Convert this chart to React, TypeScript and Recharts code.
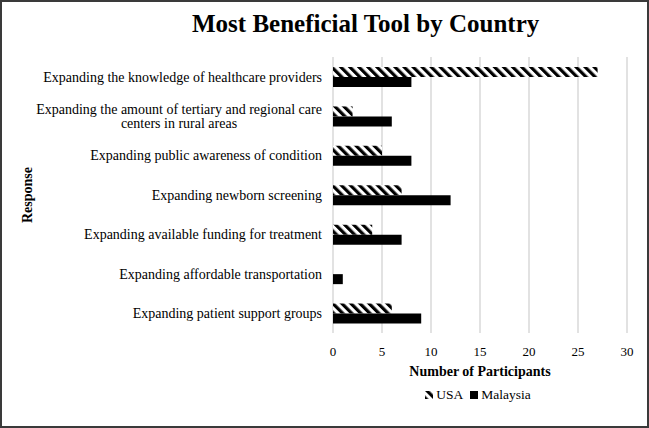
import React from 'react';
import { BarChart, Bar, XAxis, YAxis, CartesianGrid, Label } from 'recharts';

// Responses (top to bottom as drawn)
const responses = [
  'Expanding the knowledge of healthcare providers',
  'Expanding the amount of tertiary and regional care centers in rural areas',
  'Expanding public awareness of condition',
  'Expanding newborn screening',
  'Expanding available funding for treatment',
  'Expanding affordable transportation',
  'Expanding patient support groups',
];
const usaCounts = [27, 2, 5, 7, 4, 0, 6];
const malaysiaCounts = [8, 6, 8, 12, 7, 1, 9];
const xTicks = [0, 5, 10, 15, 20, 25, 30];

const data = responses.map((response, i) => ({
  response,
  usa: usaCounts[i],
  malaysia: malaysiaCounts[i],
}));

const FONT = '"Liberation Serif", "Times New Roman", serif';

// wrap long labels onto two centred lines, like Excel does
const wrapLabel = (text: string, maxChars = 50) => {
  const words = text.split(' ');
  const lines: string[] = [];
  let cur = '';
  words.forEach((w) => {
    const next = cur ? `${cur} ${w}` : w;
    if (next.length > maxChars && cur) {
      lines.push(cur);
      cur = w;
    } else {
      cur = next;
    }
  });
  if (cur) lines.push(cur);
  return lines;
};

const ResponseTick = (props: any) => {
  const { x, y, payload } = props;
  const lines = wrapLabel(payload.value);
  const style = { fontFamily: FONT, fontSize: 14, fill: '#000' };
  if (lines.length === 1) {
    return (
      <text x={x} y={y} dy="0.35em" textAnchor="end" style={style}>
        {lines[0]}
      </text>
    );
  }
  const cx = x - 143;
  return (
    <text x={cx} y={y} textAnchor="middle" style={style}>
      {lines.map((line, i) => (
        <tspan key={i} x={cx} y={y + (i - (lines.length - 1) / 2) * 14} dy="0.35em">
          {line}
        </tspan>
      ))}
    </text>
  );
};

export default function App() {
  return (
    <div
      style={{
        position: 'fixed',
        left: 0,
        top: 0,
        width: 649,
        height: 428,
        boxSizing: 'border-box',
        border: '2px solid #3a3a3a',
        background: '#fff',
        fontFamily: FONT,
        overflow: 'hidden',
      }}
    >
      <div
        style={{
          position: 'absolute',
          left: 190,
          top: 8,
          fontSize: 25,
          fontWeight: 'bold',
          whiteSpace: 'nowrap',
          color: '#000',
        }}
      >
        Most Beneficial Tool by Country
      </div>
      <div style={{ position: 'absolute', left: -2, top: -2 }}>
        <BarChart
          width={649}
          height={428}
          data={data}
          layout="vertical"
          barSize={10}
          barGap={0}
          margin={{ top: 57, right: 22, bottom: 45, left: 0 }}
          style={{ fontFamily: FONT }}
        >
          <defs>
            <pattern
              id="usaHatch"
              width={6.4}
              height={6.4}
              patternUnits="userSpaceOnUse"
              patternTransform="rotate(-45)"
            >
              <rect x={0} y={0} width={6.4} height={6.4} fill="#fff" />
              <rect x={0} y={0} width={3.2} height={6.4} fill="#000" />
            </pattern>
          </defs>
          <CartesianGrid horizontal={false} stroke="#d9d9d9" strokeWidth={1.5} />
          <XAxis
            type="number"
            domain={[0, 30]}
            ticks={xTicks}
            axisLine={false}
            tickLine={false}
            tick={{ fontSize: 13, fill: '#000', style: { fontFamily: FONT } }}
            tickMargin={8}
            height={50}
          >
            <Label
              value="Number of Participants"
              position="insideBottom"
              offset={7}
              style={{ fontSize: 14, fontWeight: 'bold', fill: '#000', fontFamily: FONT }}
            />
          </XAxis>
          <YAxis
            type="category"
            dataKey="response"
            width={333}
            axisLine={false}
            tickLine={false}
            tick={<ResponseTick />}
            tickMargin={5}
          >
            <Label
              value="Response"
              angle={-90}
              position="insideLeft"
              offset={27}
              style={{ fontSize: 14, fontWeight: 'bold', fill: '#000', fontFamily: FONT, textAnchor: 'middle' }}
            />
          </YAxis>
          <Bar dataKey="usa" name="USA" fill="url(#usaHatch)" isAnimationActive={false} />
          <Bar dataKey="malaysia" name="Malaysia" fill="#000" isAnimationActive={false} />
        </BarChart>
      </div>
      {/* Legend, centred under the plot area */}
      <div
        style={{
          position: 'absolute',
          left: 331,
          width: 290,
          top: 385,
          display: 'flex',
          justifyContent: 'center',
          alignItems: 'center',
          gap: 7,
          fontSize: 13.5,
          color: '#000',
        }}
      >
        <span style={{ display: 'flex', alignItems: 'center', gap: 3 }}>
          <svg width={8} height={8}>
            <rect width={8} height={8} fill="url(#usaHatch)" />
          </svg>
          USA
        </span>
        <span style={{ display: 'flex', alignItems: 'center', gap: 3 }}>
          <span style={{ width: 8, height: 8, background: '#000', display: 'inline-block' }} />
          Malaysia
        </span>
      </div>
    </div>
  );
}
